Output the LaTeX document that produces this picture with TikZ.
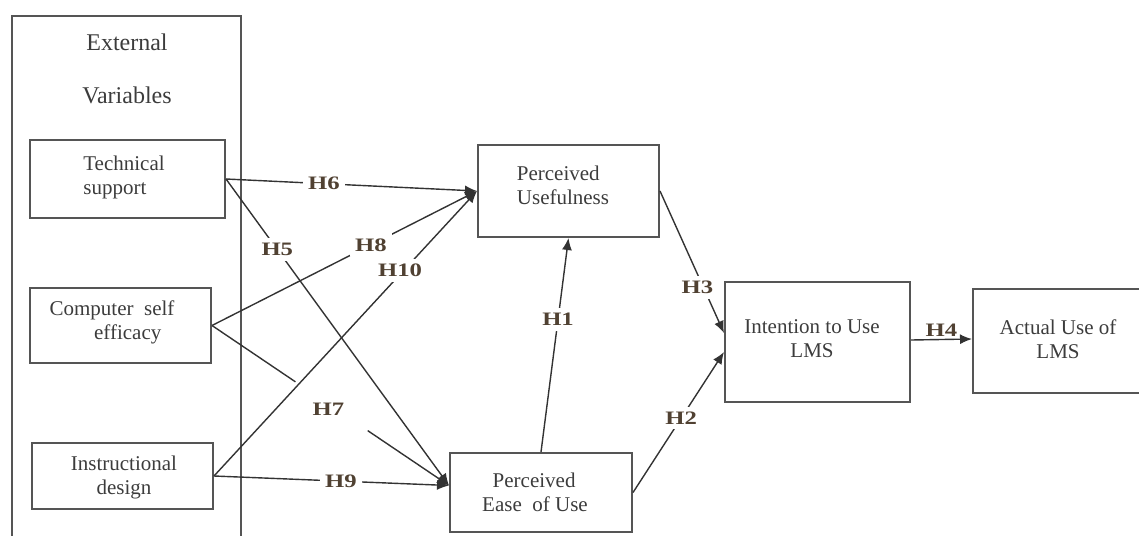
\documentclass[tikz,border=0pt]{standalone}
\usepackage{fontspec}
\setmainfont{Liberation Serif}
\newfontfamily\lblfont[FakeStretch=1.3]{Liberation Serif}
\usetikzlibrary{arrows.meta,calc}
\definecolor{boxgray}{RGB}{85,85,85}
\definecolor{txtgray}{RGB}{60,60,60}
\definecolor{lblcol}{RGB}{80,65,50}
\begin{document}
\begin{tikzpicture}[x=1pt,y=1pt,
  box/.style={draw=boxgray,line width=2pt,inner sep=0pt},
  btext/.style={text=txtgray,font=\fontsize{21}{24}\selectfont,align=center,inner sep=0pt},
  hlab/.style={text=lblcol,font=\lblfont\bfseries\fontsize{19}{20}\selectfont,fill=white,inner sep=5pt},
  conn/.style={draw=black!80,line width=1.4pt},
  arr/.style={conn,-{Latex[length=12pt,width=10pt]}}]
\useasboundingbox (0,0) rectangle (1139,-535);
% outer box
\draw[draw=boxgray,line width=2pt] (12,-540) -- (12,-16) -- (241,-16) -- (241,-540);
\node[btext,font=\fontsize{24}{26}\selectfont] (ext) at (127,-42) {External};
\node[btext,font=\fontsize{24}{26}\selectfont] (var) at (127,-95) {Variables};
% boxes
\node[box,minimum width=195pt,minimum height=78pt] (ts) at (127.5,-179) {};
\node[btext,align=left] (tst) at (124,-177) {Technical\\support};
\node[box,minimum width=181pt,minimum height=75pt] (cse) at (120.5,-325.5) {};
\node[btext] (cset) at (112,-322) {Computer\ \ self\\\ \ \ \ \ \ efficacy};
\node[box,minimum width=181pt,minimum height=66pt] (id) at (122.5,-476) {};
\node[btext] (idt) at (124,-477) {Instructional\\design};
\node[box,minimum width=181pt,minimum height=92pt] (pu) at (568.5,-191) {};
\node[btext,align=left] (put) at (563,-185) {Perceived\\Usefulness};
\node[box,minimum width=182pt,minimum height=79pt] (peou) at (541,-492.5) {};
\node[btext,align=left] (peout) at (535,-492) {\ \ Perceived\\Ease\ \ of Use};
\node[box,minimum width=185pt,minimum height=120pt] (itu) at (817.5,-342) {};
\node[btext] (itut) at (812,-339) {Intention to Use\\LMS};
\node[box,minimum width=180pt,minimum height=104pt] (au) at (1063,-341) {};
\node[btext] (aut) at (1058,-339) {Actual Use of\\LMS};
% convergence points
\coordinate (puin) at (pu.west);
\coordinate (pein) at ([yshift=7pt]peou.west);
\coordinate (itin3) at ([yshift=9pt]itu.west);
\coordinate (itin2) at ([yshift=-10pt]itu.west);
% connectors
\draw[arr] (ts.east) -- node[hlab,pos=0.39] (h6) {H6} (puin);
\draw[arr] (ts.east) -- node[hlab,pos=0.23] (h5) {H5} (pein);
\draw[arr] (cse.east) -- node[hlab,pos=0.60] (h8) {H8} (puin);
\draw[arr] (id.east) -- node[hlab,pos=0.70,xshift=2pt,yshift=6pt] (h10) {H10} (puin);
\draw[conn] (cse.east) -- ($(cse.east)!0.352!(pein)$);
\draw[arr] ($(cse.east)!0.657!(pein)$) -- (pein);
\node[hlab,fill=none] (h7) at ($(cse.east)!0.5!(pein)+(-2,-4)$) {H7};
\draw[arr] (id.east) -- node[hlab,pos=0.54] (h9) {H9} (pein);
\draw[arr] (peou.north) -- node[hlab,pos=0.62] (h1) {H1} (pu.south);
\draw[arr] (pu.east) -- node[hlab,pos=0.68,xshift=-6pt] (h3) {H3} (itin3);
\draw[arr] (peou.east) -- node[hlab,pos=0.53] (h2) {H2} (itin2);
\draw[arr] ([yshift=2pt]itu.east) -- node[hlab,fill=none,above,inner sep=2pt] (h4) {H4} ([yshift=2pt]au.west);
\end{tikzpicture}
\end{document}
